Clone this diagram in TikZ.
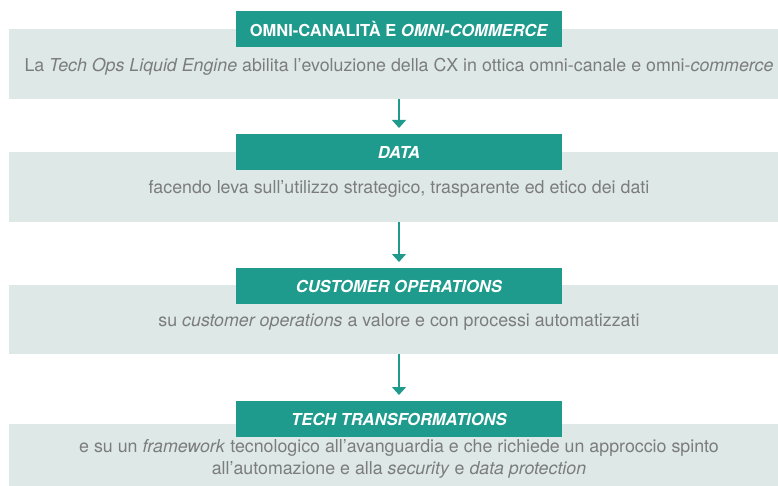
\documentclass[tikz,border=0pt]{standalone}
\usepackage{fontspec}
\setmainfont{TeX Gyre Heros}
\usetikzlibrary{arrows.meta}
\definecolor{opsteal}{HTML}{1E9B8D}
\definecolor{opsband}{HTML}{DDE8E7}
\definecolor{opstext}{HTML}{7C7C7C}

\begin{document}
\begin{tikzpicture}[x=1pt, y=-1pt,
    opsband/.style={fill=opsband, draw=none, anchor=north west,
                    inner sep=0pt, minimum width=769pt},
    opshead/.style={fill=opsteal, draw=none, anchor=north,
                    inner sep=0pt, minimum width=326pt, minimum height=36pt,
                    text=white, font=\fontsize{16.5}{19}\selectfont\bfseries},
    opsbody/.style={align=center, text=opstext, inner sep=0pt,
                    font=\fontsize{17.8}{22}\selectfont},
    flow/.style={draw=opsteal, line width=1.3pt,
                 -{Triangle[width=14pt,length=8pt]}, shorten >=6pt}
  ]
    \def\hx{399}
    \useasboundingbox (0,0) rectangle (778,486);

    \node[opsband, minimum height=70pt] (band1) at (9,29)  {};
    \node[opsband, minimum height=70pt] (band2) at (9,152) {};
    \node[opsband, minimum height=69pt] (band3) at (9,285) {};
    \node[opsband, minimum height=62pt] (band4) at (9,424) {};

    \node[opshead] (hdr1) at (\hx,11)  {OMNI-CANALITÀ E \textit{OMNI-COMMERCE}};
    \node[opshead] (hdr2) at (\hx,134) {\textit{DATA}};
    \node[opshead] (hdr3) at (\hx,268) {\textit{CUSTOMER OPERATIONS}};
    \node[opshead] (hdr4) at (\hx,401) {\textit{TECH TRANSFORMATIONS}};

    \node[opsbody] (txt1) at (\hx,67)
      {La \textit{Tech Ops Liquid Engine} abilita l'evoluzione della CX in ottica omni-canale e omni-\textit{commerce}};
    \node[opsbody] (txt2) at (\hx,189)
      {facendo leva sull'utilizzo strategico, trasparente ed etico dei dati};
    \node[opsbody] (txt3) at (\hx,322)
      {su \textit{customer operations} a valore e con processi automatizzati};
    \node[opsbody] (txt4) at (\hx,459)
      {e su un \textit{framework} tecnologico all'avanguardia e che richiede un approccio spinto\\
       all'automazione e alla \textit{security} e \textit{data protection}};

    \foreach \a/\b in {band1/hdr2, band2/hdr3, band3/hdr4}
      \draw[flow] (\a.south -| \b.north) -- (\b.north);
  \end{tikzpicture}
\end{document}
